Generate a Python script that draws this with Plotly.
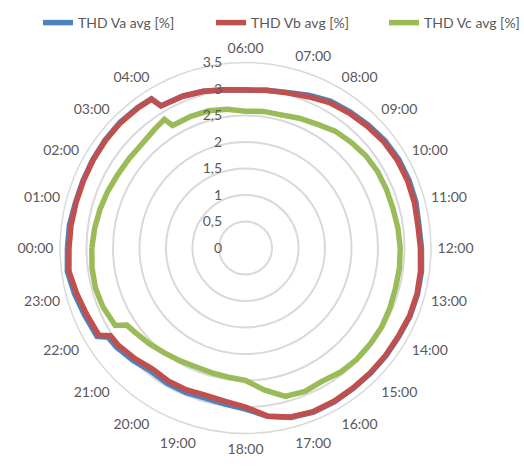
import plotly.graph_objects as go

# time of day (hours)
times_h = [0, 0.5, 1, 1.5, 2, 2.5, 3, 3.5, 3.85, 3.95,
           4.5, 5, 5.5, 6, 6.5, 7, 7.5, 8, 8.5, 9, 9.5, 10, 10.5, 11, 11.5,
           12, 12.5, 13, 13.5, 14, 14.5, 15, 15.5, 16, 16.5, 17, 17.5, 18,
           18.5, 19, 19.5, 20, 20.5, 21, 21.5, 21.8, 21.95, 22.5, 23, 23.5]

thd_va = [3.36, 3.35, 3.32, 3.32, 3.33, 3.34, 3.35, 3.34, 3.33, 3.12,
          3.10, 3.06, 3.01, 2.98, 3.00, 3.04, 3.12, 3.20, 3.24, 3.28, 3.32, 3.34, 3.34, 3.33, 3.30,
          3.32, 3.35, 3.36, 3.36, 3.34, 3.34, 3.34, 3.34, 3.35, 3.35, 3.31, 3.20, 3.04,
          2.97, 2.93, 2.95, 2.95, 2.93, 3.00, 3.07, 3.09, 3.26, 3.29, 3.34, 3.39]

thd_vb = [3.33, 3.32, 3.31, 3.31, 3.32, 3.33, 3.34, 3.33, 3.32, 3.12,
          3.10, 3.06, 3.01, 2.98, 3.00, 3.03, 3.09, 3.17, 3.21, 3.25, 3.29, 3.31, 3.31, 3.30, 3.28,
          3.30, 3.33, 3.35, 3.35, 3.33, 3.33, 3.33, 3.33, 3.34, 3.34, 3.30, 3.20, 3.00,
          2.92, 2.88, 2.90, 2.90, 2.88, 2.95, 3.02, 3.04, 3.22, 3.25, 3.30, 3.36]

thd_vc = [2.90, 2.87, 2.84, 2.81, 2.78, 2.77, 2.77, 2.82, 2.87, 2.69,
          2.69, 2.68, 2.64, 2.58, 2.60, 2.60, 2.65, 2.70, 2.78, 2.82, 2.86, 2.88, 2.88, 2.88, 2.90,
          2.92, 2.93, 2.93, 2.95, 2.97, 2.97, 2.97, 2.95, 2.90, 2.93, 2.90, 2.70, 2.50,
          2.46, 2.44, 2.43, 2.46, 2.50, 2.56, 2.62, 2.67, 2.86, 2.91, 2.93, 2.92]

series_names = ["THD Va avg [%]", "THD Vb avg [%]", "THD Vc avg [%]"]
series_colors = ["#4F81BD", "#C0504D", "#9BBB59"]

# hour labels shown on the angular axis (the reference shows no 05:00 label)
hour_ticks = [h for h in range(24) if h != 5]
hour_labels = ["%02d:00" % h for h in hour_ticks]

radial_ticks = [0, 0.5, 1, 1.5, 2, 2.5, 3, 3.5]

DEG_PER_HOUR = 360 / 24
W, H = 524, 467


def closed(seq):
    return list(seq) + [seq[0]]


theta = closed([t * DEG_PER_HOUR for t in times_h])

legend_ids = ["legend", "legend2", "legend3"]
legend_x_px = [38, 211, 384]

fig = go.Figure()
for name, vals, col, lg in zip(series_names, [thd_va, thd_vb, thd_vc], series_colors, legend_ids):
    fig.add_trace(go.Scatterpolar(
        r=closed(vals), theta=theta, mode="lines", name=name,
        line=dict(color=col, width=5.5), thetaunit="degrees", legend=lg,
    ))

legend_common = dict(orientation="h", xanchor="left", y=1 - 7 / H, yanchor="top",
                     font=dict(size=14, color="#595959"), bgcolor="rgba(0,0,0,0)")

fig.update_layout(
    width=W, height=H,
    margin=dict(l=0, r=0, t=0, b=0, autoexpand=False),
    paper_bgcolor="white",
    separators=", ",
    font=dict(family="Lato, Open Sans, sans-serif", size=13, color="#595959"),
    showlegend=True,
    legend=dict(x=legend_x_px[0] / W, **legend_common),
    legend2=dict(x=legend_x_px[1] / W, **legend_common),
    legend3=dict(x=legend_x_px[2] / W, **legend_common),
    polar=dict(
        domain=dict(x=[60 / W, 431 / W], y=[33.5 / H, 404.5 / H]),
        bgcolor="white",
        angularaxis=dict(
            direction="clockwise", rotation=180,
            tickmode="array", tickvals=[h * DEG_PER_HOUR for h in hour_ticks],
            ticktext=hour_labels, showgrid=False, showline=True,
            linecolor="#D9D9D9", linewidth=1.5,
            ticks="outside", ticklen=3, tickcolor="rgba(0,0,0,0)",
            tickfont=dict(size=14, color="#595959"),
        ),
        radialaxis=dict(
            range=[0, 3.5], tickmode="array", tickvals=radial_ticks,
            angle=90, side="counterclockwise", tickangle=90,
            showgrid=True, gridcolor="#D9D9D9", gridwidth=1.5,
            showline=False, ticks="outside", ticklen=18, tickcolor="rgba(0,0,0,0)",
            tickfont=dict(size=14, color="#595959"),
        ),
    ),
)

fig.write_html("out.html", config={"displayModeBar": False},
               post_script="document.body.style.margin='0';")
